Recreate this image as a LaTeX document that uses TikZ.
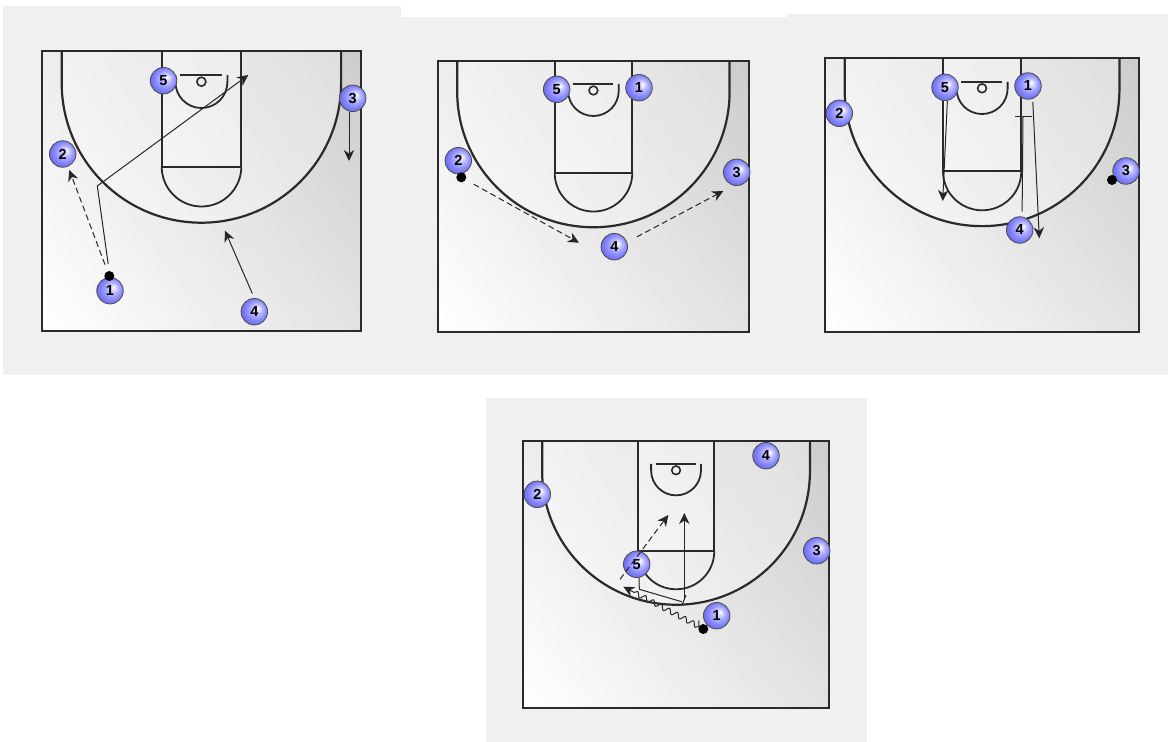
\documentclass[tikz,border=0pt]{standalone}
\usepackage{fontspec}
\setmainfont{Liberation Sans}
\usetikzlibrary{arrows.meta, shadings, decorations.pathmorphing}
\definecolor{panelgray}{HTML}{F0F0F0}
\definecolor{courtline}{HTML}{2A2A2A}
\pgfdeclareradialshading{playerball}{\pgfpoint{0.25cm}{0.25cm}}{
  color(0cm)=(white); color(0.3cm)=(blue!25!white);
  color(0.7cm)=(blue!48!white); color(1.2cm)=(blue!60!gray!85!white)}

\begin{document}
\begin{tikzpicture}[
  x=1pt, y=-1pt,
  panel/.style={fill=panelgray},
  floor/.style={lower left=white, lower right=black!11, upper left=black!7, upper right=black!20},
  court/.style={draw=courtline, line width=2.2pt},
  keyline/.style={draw=courtline, line width=1.8pt},
  player/.style={circle, shading=playerball, draw=black!70, line width=0.8pt, inner sep=0pt,
                 minimum size=26.5pt, font=\fontsize{14.5}{14.5}\selectfont\bfseries},
  hasball/.style={circle, fill=black, inner sep=0pt, minimum size=10pt},
  cut/.style={-{Stealth[length=11pt,width=10.5pt,inset=3.5pt]}, line width=1pt, draw=black!85},
  pass/.style={cut, dash pattern=on 6pt off 3.5pt},
  dribble/.style={cut, decorate, decoration={snake, amplitude=2.5pt, segment length=9pt, post length=9pt}},
  screen/.style={line width=1pt, draw=black!85}
]
\useasboundingbox (0,0) rectangle (1168,742);
\fill[panel] (3,6) rectangle (401,375);
\fill[panel] (400,17) rectangle (787,375);
\fill[panel] (787,14) rectangle (1168,375);
\fill[panel] (486,398) rectangle (867,742);

% the four half courts, drawn in the frame of the first one
\foreach \cx/\cy/\cw/\ch in {41.7/51/319/279.7, 437.7/60.7/311/271.3, 825/58.3/313.7/273.4, 523/441/305.7/266.7} {
  \begin{scope}[shift={(\cx,\cy)}, xscale=\cw/319, yscale=\ch/279.7]
    \shade[floor] (0,0) rectangle (319,279.7);
    \fill[white, opacity=0.35] (20,0) -- (20,32) arc[start angle=180, end angle=0, radius=139.7] -- (299.4,0) -- cycle;
    \fill[white, opacity=0.3] (120,0) rectangle (199.6,115.7);
    \draw[court] (0,0) rectangle (319,279.7);
    \draw[court] (20,0) -- (20,32) arc[start angle=180, end angle=0, radius=139.7] -- (299.4,0);
    \draw[keyline] (120,0) -- (120,115.7) -- (199.6,115.7) -- (199.6,0);
    \draw[keyline] (120,115.7) arc[start angle=180, end angle=0, radius=39.8];
    \draw[keyline] (138.3,24.3) -- (180,24.3);
    \draw[keyline, line width=1.6pt] (159.7,30.7) circle[radius=4.5];
    \draw[keyline] (133.7,24) -- (133.7,31) arc[start angle=180, end angle=0, radius=26] -- (185.7,24);
  \end{scope}
}

% first court
\node[player] (a1) at (110,290.7) {1};
\node[player] (a2) at (62.7,154) {2};
\node[player] (a3) at (352.7,98.3) {3};
\node[player] (a4) at (254.3,311.7) {4};
\node[player] (a5) at (163.5,80.7) {5};
\node[hasball] (ballA) at (109.3,276) {};
\coordinate (tipA2) at (69.3,170);
\coordinate (kneeA1) at (97.3,186);
\coordinate (tipA1) at (248.3,75);
\coordinate (tipA3) at (349,161);
\coordinate (tipA4) at (225,230.7);
\draw[pass, shorten <=7pt] (ballA) -- (tipA2);
\draw[cut, shorten <=13pt] (a1.north) -- (kneeA1) -- (tipA1);
\draw[cut] (tipA3 |- a3.south) -- (tipA3);
\draw[cut, shorten <=5pt] (a4.north) -- (tipA4);

% second court
\node[player] (b1) at (639,87.7) {1};
\node[player] (b2) at (458.3,160.7) {2};
\node[player] (b3) at (736.7,172.3) {3};
\node[player] (b4) at (614.3,246.7) {4};
\node[player] (b5) at (556.7,89.3) {5};
\node[hasball] (ballB) at (461.3,177.3) {};
\coordinate (tipB2) at (579,242.7);
\coordinate (tipB4) at (723.3,191);
\draw[pass, shorten <=9pt] (ballB) -- (tipB2);
\draw[pass, shorten <=11pt] (b4.20) -- (tipB4);

% third court
\node[player] (c1) at (1028,86) {1};
\node[player] (c2) at (839.3,113.3) {2};
\node[player] (c3) at (1126,171) {3};
\node[player] (c4) at (1019.7,230) {4};
\node[player] (c5) at (945,87.3) {5};
\node[hasball] (ballC) at (1112,180) {};
\coordinate (tipC5) at (942.7,201);
\coordinate (tipC1) at (1039.3,238.3);
\coordinate (barCl) at (1015,116.7);
\coordinate (barCr) at (1032.3,116.7);
\coordinate (barCm) at (1023,116.7);
\draw[cut] (c5.-80) -- (tipC5);
\draw[cut, shorten <=3pt] (c1.-70) -- (tipC1);
\draw[screen, shorten <=5pt] (c4.80) -- (barCm);
\draw[screen] (barCl) -- (barCr);

% fourth court
\node[player] (d1) at (716.7,615.7) {1};
\node[player] (d2) at (537.3,494.3) {2};
\node[player] (d3) at (816.7,550.7) {3};
\node[player] (d4) at (766,455.7) {4};
\node[player] (d5) at (636.7,564.3) {5};
\node[hasball] (ballD) at (703.3,629) {};
\coordinate (tailD5) at (620,579.3);
\coordinate (tipD5) at (668.3,515);
\coordinate (kneeD) at (639.3,589.3);
\coordinate (screenD) at (681.7,601.7);
\coordinate (barDa) at (681.7,606);
\coordinate (barDb) at (686,595);
\coordinate (tailD1) at (684.3,600);
\coordinate (tipD1) at (684.3,513);
\coordinate (tipD2) at (623.3,586.7);
\draw[pass] (tailD5) -- (tipD5);
\draw[screen] (d5.-80) -- (kneeD) -- (screenD);
\draw[screen] (barDa) -- (barDb);
\draw[cut] (tailD1) -- (tipD1);
\draw[dribble, shorten <=6pt] (ballD.150) -- (tipD2);
\end{tikzpicture}
\end{document}
